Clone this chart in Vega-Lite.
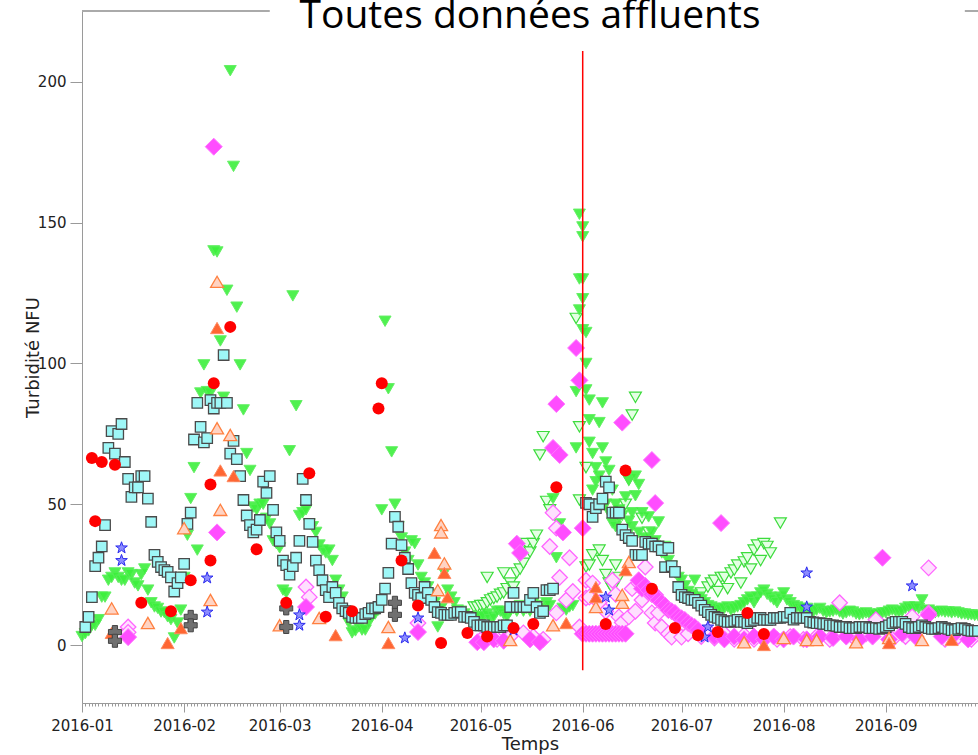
{
"width": 896, "height": 692,
"autosize": {"type": "none"},
"padding": {"left": 82, "top": 11, "right": 0, "bottom": 52},
"background": "white",
"view": {"stroke": null},
"title": {"text": "Toutes données affluents", "font": "Open Sans", "fontSize": 39, "fontWeight": "normal", "color": "#000000", "anchor": "middle", "offset": 0, "dy": 26},
"config": {
 "view": {"stroke": null},
 "axis": {"labelFont": "DejaVu Sans", "titleFont": "DejaVu Sans", "labelColor": "#222222", "titleColor": "#222222", "domainColor": "#9a9a9a", "tickColor": "#9a9a9a", "grid": false, "titleFontWeight": "normal"}
},
"datasets": {
"A": [
{"d":"2016-01-02","v":6.4},{"d":"2016-01-03","v":10},{"d":"2016-01-04","v":17},{"d":"2016-01-05","v":28},{"d":"2016-01-06","v":31},{"d":"2016-01-07","v":35},{"d":"2016-01-08","v":42.6},{"d":"2016-01-09","v":70},{"d":"2016-01-10","v":76},{"d":"2016-01-11","v":68},{"d":"2016-01-12","v":75},{"d":"2016-01-13","v":78.5},{"d":"2016-01-14","v":65},{"d":"2016-01-15","v":59},{"d":"2016-01-16","v":52.6},{"d":"2016-01-17","v":56},{"d":"2016-01-18","v":56},{"d":"2016-01-19","v":60},{"d":"2016-01-20","v":60},{"d":"2016-01-21","v":52},{"d":"2016-01-22","v":43.7},{"d":"2016-01-23","v":32},{"d":"2016-01-24","v":29.5},{"d":"2016-01-25","v":27.7},{"d":"2016-01-26","v":26.6},{"d":"2016-01-27","v":26},{"d":"2016-01-28","v":24},{"d":"2016-01-29","v":19},{"d":"2016-01-30","v":22},{"d":"2016-01-31","v":24},
{"d":"2016-02-01","v":28.8},{"d":"2016-02-02","v":43},{"d":"2016-02-03","v":47},{"d":"2016-02-04","v":73},{"d":"2016-02-05","v":86},{"d":"2016-02-06","v":77.5},{"d":"2016-02-07","v":72},{"d":"2016-02-08","v":73.5},{"d":"2016-02-09","v":87},{"d":"2016-02-10","v":84},{"d":"2016-02-11","v":86},{"d":"2016-02-12","v":86},{"d":"2016-02-13","v":103},{"d":"2016-02-14","v":86},{"d":"2016-02-15","v":68},{"d":"2016-02-16","v":72.5},{"d":"2016-02-17","v":66},{"d":"2016-02-18","v":60},{"d":"2016-02-19","v":51.5},{"d":"2016-02-20","v":46},{"d":"2016-02-21","v":42.6},{"d":"2016-02-22","v":40},{"d":"2016-02-23","v":41},{"d":"2016-02-24","v":44.4},{"d":"2016-02-25","v":58},{"d":"2016-02-26","v":54},{"d":"2016-02-27","v":60},{"d":"2016-02-28","v":48},{"d":"2016-02-29","v":40},
{"d":"2016-03-01","v":37},{"d":"2016-03-02","v":30},{"d":"2016-03-03","v":28.4},{"d":"2016-03-04","v":25},{"d":"2016-03-05","v":28},{"d":"2016-03-06","v":31},{"d":"2016-03-07","v":37},{"d":"2016-03-08","v":59},{"d":"2016-03-09","v":51.5},{"d":"2016-03-10","v":43},{"d":"2016-03-11","v":36.6},{"d":"2016-03-12","v":30},{"d":"2016-03-13","v":26.6},{"d":"2016-03-14","v":23},{"d":"2016-03-15","v":19.5},{"d":"2016-03-16","v":17},{"d":"2016-03-17","v":20.6},{"d":"2016-03-18","v":18.5},{"d":"2016-03-19","v":15},{"d":"2016-03-20","v":13},{"d":"2016-03-21","v":12},{"d":"2016-03-22","v":11.4},{"d":"2016-03-23","v":10},{"d":"2016-03-24","v":9.6},{"d":"2016-03-25","v":9.6},{"d":"2016-03-26","v":9.6},{"d":"2016-03-27","v":11},{"d":"2016-03-28","v":11.4},{"d":"2016-03-29","v":13},{"d":"2016-03-30","v":13},{"d":"2016-03-31","v":13.5},
{"d":"2016-04-01","v":16},{"d":"2016-04-02","v":20},{"d":"2016-04-03","v":25.6},{"d":"2016-04-04","v":36},{"d":"2016-04-05","v":45.5},{"d":"2016-04-06","v":42},{"d":"2016-04-07","v":35.5},{"d":"2016-04-08","v":31},{"d":"2016-04-09","v":27},{"d":"2016-04-10","v":22},{"d":"2016-04-11","v":18.5},{"d":"2016-04-12","v":17.8},{"d":"2016-04-13","v":16.7},{"d":"2016-04-14","v":20.6},{"d":"2016-04-15","v":18.5},{"d":"2016-04-16","v":16},{"d":"2016-04-17","v":13.5},{"d":"2016-04-18","v":11.7},{"d":"2016-04-19","v":11.4},{"d":"2016-04-20","v":10.7},{"d":"2016-04-21","v":10.7},{"d":"2016-04-22","v":10.7},{"d":"2016-04-23","v":11.4},{"d":"2016-04-24","v":11.7},{"d":"2016-04-25","v":11.7},{"d":"2016-04-26","v":10},{"d":"2016-04-27","v":10},{"d":"2016-04-28","v":9.6},{"d":"2016-04-29","v":8.2},{"d":"2016-04-30","v":7},
{"d":"2016-05-01","v":7},{"d":"2016-05-02","v":7},{"d":"2016-05-03","v":6.4},{"d":"2016-05-04","v":6.4},{"d":"2016-05-05","v":6.4},{"d":"2016-05-06","v":6.4},{"d":"2016-05-07","v":6.4},{"d":"2016-05-08","v":7},{"d":"2016-05-09","v":7},{"d":"2016-05-10","v":13.5},{"d":"2016-05-11","v":18.5},{"d":"2016-05-12","v":13.5},{"d":"2016-05-13","v":13.5},{"d":"2016-05-14","v":13.5},{"d":"2016-05-15","v":13.5},{"d":"2016-05-16","v":16},{"d":"2016-05-17","v":18.5},{"d":"2016-05-18","v":13.5},{"d":"2016-05-19","v":11.4},{"d":"2016-05-20","v":12},{"d":"2016-05-21","v":19.5},{"d":"2016-05-22","v":19.5},{"d":"2016-05-23","v":20},
{"d":"2016-06-02","v":50.5},{"d":"2016-06-03","v":50},{"d":"2016-06-04","v":45.5},{"d":"2016-06-05","v":48.6},{"d":"2016-06-06","v":50},{"d":"2016-06-07","v":52},{"d":"2016-06-08","v":58},{"d":"2016-06-09","v":56},{"d":"2016-06-10","v":47},{"d":"2016-06-11","v":47},{"d":"2016-06-12","v":47},{"d":"2016-06-13","v":41},{"d":"2016-06-14","v":39},{"d":"2016-06-15","v":38},{"d":"2016-06-16","v":37},{"d":"2016-06-17","v":32},{"d":"2016-06-18","v":32},{"d":"2016-06-19","v":32},{"d":"2016-06-20","v":36.6},{"d":"2016-06-21","v":36},{"d":"2016-06-22","v":36},{"d":"2016-06-23","v":35},{"d":"2016-06-24","v":35},{"d":"2016-06-25","v":33.7},{"d":"2016-06-26","v":27.7},{"d":"2016-06-27","v":34.5},{"d":"2016-06-28","v":28},{"d":"2016-06-29","v":26},{"d":"2016-06-30","v":20.6},
{"d":"2016-07-01","v":17.8},{"d":"2016-07-02","v":17},{"d":"2016-07-03","v":16.7},{"d":"2016-07-04","v":16},{"d":"2016-07-05","v":16},{"d":"2016-07-06","v":15},{"d":"2016-07-07","v":14},{"d":"2016-07-08","v":12.5},{"d":"2016-07-09","v":11.7},{"d":"2016-07-10","v":10.7},{"d":"2016-07-11","v":10},{"d":"2016-07-12","v":9.6},{"d":"2016-07-13","v":8.9},{"d":"2016-07-14","v":8.5},{"d":"2016-07-15","v":8.2},{"d":"2016-07-16","v":8.2},{"d":"2016-07-17","v":8.5},{"d":"2016-07-18","v":8.9},{"d":"2016-07-19","v":8.2},{"d":"2016-07-20","v":8.2},{"d":"2016-07-21","v":7.8},{"d":"2016-07-22","v":8.5},{"d":"2016-07-23","v":8.9},{"d":"2016-07-24","v":9.6},{"d":"2016-07-25","v":9.6},{"d":"2016-07-26","v":8.9},{"d":"2016-07-27","v":8.9},{"d":"2016-07-28","v":8.9},{"d":"2016-07-29","v":9.6},{"d":"2016-07-30","v":9.6},{"d":"2016-07-31","v":9.6},
{"d":"2016-08-01","v":10},{"d":"2016-08-02","v":10},{"d":"2016-08-03","v":11.4},{"d":"2016-08-04","v":9},{"d":"2016-08-05","v":9.6},{"d":"2016-08-06","v":9.6},{"d":"2016-08-07","v":9.6},{"d":"2016-08-08","v":9.6},{"d":"2016-08-09","v":8.2},{"d":"2016-08-10","v":8},{"d":"2016-08-11","v":7.8},{"d":"2016-08-12","v":7.8},{"d":"2016-08-13","v":7.5},{"d":"2016-08-14","v":7.5},{"d":"2016-08-15","v":7},{"d":"2016-08-16","v":7},{"d":"2016-08-17","v":6.8},{"d":"2016-08-18","v":6.4},{"d":"2016-08-19","v":6.4},{"d":"2016-08-20","v":6.4},{"d":"2016-08-21","v":6},{"d":"2016-08-22","v":6},{"d":"2016-08-23","v":6},{"d":"2016-08-24","v":6.4},{"d":"2016-08-25","v":6.4},{"d":"2016-08-26","v":6.4},{"d":"2016-08-27","v":6},{"d":"2016-08-28","v":6},{"d":"2016-08-29","v":6},{"d":"2016-08-30","v":5.7},{"d":"2016-08-31","v":6},
{"d":"2016-09-01","v":6.4},{"d":"2016-09-02","v":7},{"d":"2016-09-03","v":7.8},{"d":"2016-09-04","v":8.2},{"d":"2016-09-05","v":8.2},{"d":"2016-09-06","v":8.2},{"d":"2016-09-07","v":7.5},{"d":"2016-09-08","v":6.4},{"d":"2016-09-09","v":6},{"d":"2016-09-10","v":6},{"d":"2016-09-11","v":6.4},{"d":"2016-09-12","v":7},{"d":"2016-09-13","v":6.4},{"d":"2016-09-14","v":6},{"d":"2016-09-15","v":5.7},{"d":"2016-09-16","v":5.7},{"d":"2016-09-17","v":6},{"d":"2016-09-18","v":6.4},{"d":"2016-09-19","v":6},{"d":"2016-09-20","v":5.7},{"d":"2016-09-21","v":5.3},{"d":"2016-09-22","v":5.3},{"d":"2016-09-23","v":5.7},{"d":"2016-09-24","v":6},{"d":"2016-09-25","v":5.7},{"d":"2016-09-26","v":5.3},{"d":"2016-09-27","v":5},{"d":"2016-09-28","v":5},{"d":"2016-09-29","v":5}
],
"B": [
{"d":"2016-01-01","v":3},{"d":"2016-01-02","v":4},{"d":"2016-01-03","v":5},{"d":"2016-01-04","v":7},{"d":"2016-01-05","v":7},{"d":"2016-01-06","v":9},{"d":"2016-01-07","v":17},{"d":"2016-01-08","v":17},{"d":"2016-01-09","v":23},{"d":"2016-01-10","v":24},{"d":"2016-01-11","v":25.6},{"d":"2016-01-12","v":24},{"d":"2016-01-13","v":23},{"d":"2016-01-14","v":23},{"d":"2016-01-15","v":25.6},{"d":"2016-01-16","v":25},{"d":"2016-01-17","v":22},{"d":"2016-01-18","v":21},{"d":"2016-01-19","v":25},{"d":"2016-01-20","v":27},{"d":"2016-01-21","v":19.5},{"d":"2016-01-22","v":15},{"d":"2016-01-23","v":13.5},{"d":"2016-01-24","v":13},{"d":"2016-01-25","v":11.7},{"d":"2016-01-26","v":11.5},{"d":"2016-01-27","v":10},{"d":"2016-01-28","v":9},{"d":"2016-01-29","v":2.5},{"d":"2016-01-30","v":7.8},{"d":"2016-01-31","v":12.4},
{"d":"2016-02-01","v":24},{"d":"2016-02-02","v":39},{"d":"2016-02-03","v":52},{"d":"2016-02-04","v":63},{"d":"2016-02-05","v":33.7},{"d":"2016-02-06","v":89.5},{"d":"2016-02-07","v":99.5},{"d":"2016-02-08","v":90},{"d":"2016-02-09","v":89.5},{"d":"2016-02-10","v":140},{"d":"2016-02-11","v":139.6},{"d":"2016-02-12","v":108},{"d":"2016-02-13","v":88},{"d":"2016-02-14","v":126},{"d":"2016-02-15","v":204},{"d":"2016-02-16","v":170},{"d":"2016-02-17","v":120},{"d":"2016-02-18","v":99.5},{"d":"2016-02-19","v":83.5},{"d":"2016-02-20","v":68},{"d":"2016-02-21","v":62},{"d":"2016-02-22","v":49},{"d":"2016-02-23","v":48},{"d":"2016-02-24","v":50},{"d":"2016-02-25","v":50},{"d":"2016-02-26","v":45},{"d":"2016-02-27","v":43},{"d":"2016-02-28","v":37},{"d":"2016-02-29","v":36},
{"d":"2016-03-01","v":34.5},{"d":"2016-03-02","v":19.5},{"d":"2016-03-03","v":18.5},{"d":"2016-03-04","v":69},{"d":"2016-03-05","v":124},{"d":"2016-03-06","v":85},{"d":"2016-03-07","v":46},{"d":"2016-03-08","v":47},{"d":"2016-03-09","v":48},{"d":"2016-03-10","v":43},{"d":"2016-03-11","v":42},{"d":"2016-03-12","v":40},{"d":"2016-03-13","v":35.5},{"d":"2016-03-14","v":33.7},{"d":"2016-03-15","v":32.7},{"d":"2016-03-16","v":33.7},{"d":"2016-03-17","v":30},{"d":"2016-03-18","v":23},{"d":"2016-03-19","v":19.5},{"d":"2016-03-20","v":17},{"d":"2016-03-21","v":12},{"d":"2016-03-22","v":7.8},{"d":"2016-03-23","v":4.3},{"d":"2016-03-24","v":5},{"d":"2016-03-25","v":6.4},{"d":"2016-03-26","v":5.3},{"d":"2016-03-27","v":5.3},{"d":"2016-03-28","v":7.8},{"d":"2016-03-29","v":10},{"d":"2016-03-30","v":11},{"d":"2016-03-31","v":12.4},
{"d":"2016-04-01","v":48},{"d":"2016-04-02","v":115},{"d":"2016-04-03","v":91},{"d":"2016-04-04","v":68.6},{"d":"2016-04-05","v":50},{"d":"2016-04-06","v":42},{"d":"2016-04-07","v":38},{"d":"2016-04-08","v":33},{"d":"2016-04-09","v":30},{"d":"2016-04-10","v":37},{"d":"2016-04-11","v":36},{"d":"2016-04-12","v":28.4},{"d":"2016-04-13","v":24},{"d":"2016-04-14","v":22},{"d":"2016-04-15","v":20.6},{"d":"2016-04-16","v":18},{"d":"2016-04-17","v":15},{"d":"2016-04-18","v":6.4},{"d":"2016-04-19","v":13},{"d":"2016-04-20","v":25.6},{"d":"2016-04-21","v":19.5},{"d":"2016-04-22","v":17},{"d":"2016-04-23","v":15},{"d":"2016-04-24","v":12.4},{"d":"2016-04-25","v":12},{"d":"2016-04-26","v":11},{"d":"2016-04-27","v":10},{"d":"2016-04-28","v":9},{"d":"2016-04-29","v":8},{"d":"2016-04-30","v":10},
{"d":"2016-05-01","v":10},{"d":"2016-05-02","v":10},{"d":"2016-05-03","v":11},{"d":"2016-05-04","v":9},{"d":"2016-05-05","v":10},{"d":"2016-05-06","v":12},{"d":"2016-05-07","v":12},{"d":"2016-05-08","v":11},{"d":"2016-05-09","v":10},{"d":"2016-05-10","v":12},{"d":"2016-05-11","v":13},{"d":"2016-05-12","v":12},{"d":"2016-05-13","v":14},{"d":"2016-05-14","v":12},{"d":"2016-05-15","v":13},{"d":"2016-05-16","v":12},{"d":"2016-05-17","v":15},{"d":"2016-05-18","v":14},{"d":"2016-05-19","v":13},{"d":"2016-05-20","v":12},{"d":"2016-05-21","v":15},{"d":"2016-05-22","v":14},{"d":"2016-05-23","v":52},{"d":"2016-05-24","v":31},{"d":"2016-05-25","v":43},{"d":"2016-05-26","v":13},{"d":"2016-05-27","v":12.4},{"d":"2016-05-28","v":13.5},{"d":"2016-05-29","v":14},{"d":"2016-05-30","v":70},{"d":"2016-05-30","v":90},{"d":"2016-05-31","v":153},{"d":"2016-05-31","v":130},{"d":"2016-05-31","v":119},
{"d":"2016-06-01","v":148.5},{"d":"2016-06-01","v":145},{"d":"2016-06-01","v":130},{"d":"2016-06-01","v":123},{"d":"2016-06-01","v":112},{"d":"2016-06-02","v":111},{"d":"2016-06-02","v":100},{"d":"2016-06-02","v":90.6},{"d":"2016-06-03","v":87},{"d":"2016-06-03","v":80},{"d":"2016-06-03","v":72},{"d":"2016-06-04","v":68},{"d":"2016-06-04","v":55},{"d":"2016-06-05","v":63},{"d":"2016-06-05","v":58},{"d":"2016-06-06","v":79},{"d":"2016-06-06","v":60},{"d":"2016-06-07","v":86},{"d":"2016-06-07","v":70},{"d":"2016-06-08","v":65},{"d":"2016-06-08","v":50},{"d":"2016-06-09","v":47},{"d":"2016-06-09","v":62},{"d":"2016-06-10","v":43.3},{"d":"2016-06-10","v":55},{"d":"2016-06-11","v":42},{"d":"2016-06-11","v":50},{"d":"2016-06-12","v":45},{"d":"2016-06-12","v":48},{"d":"2016-06-13","v":40},{"d":"2016-06-13","v":46},{"d":"2016-06-14","v":52.6},{"d":"2016-06-15","v":58.6},{"d":"2016-06-15","v":44},{"d":"2016-06-16","v":47},{"d":"2016-06-16","v":42},{"d":"2016-06-17","v":60},{"d":"2016-06-17","v":53},{"d":"2016-06-18","v":57},{"d":"2016-06-18","v":40},{"d":"2016-06-19","v":47},{"d":"2016-06-20","v":38},{"d":"2016-06-21","v":45.5},{"d":"2016-06-22","v":40},{"d":"2016-06-23","v":37},{"d":"2016-06-24","v":43.7},{"d":"2016-06-25","v":32.7},{"d":"2016-06-26","v":35},{"d":"2016-06-27","v":30},{"d":"2016-06-28","v":28},{"d":"2016-06-29","v":25.6},{"d":"2016-06-30","v":24},
{"d":"2016-07-01","v":23},{"d":"2016-07-02","v":21},{"d":"2016-07-03","v":19},{"d":"2016-07-04","v":18},{"d":"2016-07-05","v":23},{"d":"2016-07-06","v":17},{"d":"2016-07-07","v":16},{"d":"2016-07-08","v":15},{"d":"2016-07-09","v":14},{"d":"2016-07-10","v":13.5},{"d":"2016-07-11","v":13},{"d":"2016-07-12","v":13},{"d":"2016-07-13","v":12.5},{"d":"2016-07-14","v":13},{"d":"2016-07-15","v":13.5},{"d":"2016-07-16","v":12.4},{"d":"2016-07-17","v":13},{"d":"2016-07-18","v":13.5},{"d":"2016-07-19","v":14},{"d":"2016-07-20","v":15},{"d":"2016-07-21","v":16},{"d":"2016-07-22","v":17},{"d":"2016-07-23","v":15},{"d":"2016-07-24","v":17},{"d":"2016-07-25","v":18.5},{"d":"2016-07-26","v":19.5},{"d":"2016-07-27","v":18},{"d":"2016-07-28","v":17},{"d":"2016-07-29","v":16},{"d":"2016-07-30","v":15},{"d":"2016-07-31","v":17},
{"d":"2016-08-01","v":18.5},{"d":"2016-08-02","v":16},{"d":"2016-08-03","v":15},{"d":"2016-08-04","v":14},{"d":"2016-08-05","v":13.5},{"d":"2016-08-06","v":13},{"d":"2016-08-07","v":12.4},{"d":"2016-08-08","v":13},{"d":"2016-08-09","v":12},{"d":"2016-08-10","v":11.7},{"d":"2016-08-11","v":12.4},{"d":"2016-08-12","v":13},{"d":"2016-08-13","v":12},{"d":"2016-08-14","v":11.4},{"d":"2016-08-15","v":11.7},{"d":"2016-08-16","v":12},{"d":"2016-08-17","v":12.4},{"d":"2016-08-18","v":11.7},{"d":"2016-08-19","v":11},{"d":"2016-08-20","v":11.4},{"d":"2016-08-21","v":12},{"d":"2016-08-22","v":11.7},{"d":"2016-08-23","v":11},{"d":"2016-08-24","v":10.7},{"d":"2016-08-25","v":11},{"d":"2016-08-26","v":11.4},{"d":"2016-08-27","v":11},{"d":"2016-08-28","v":10.7},{"d":"2016-08-29","v":10.7},{"d":"2016-08-30","v":11},{"d":"2016-08-31","v":11.4},
{"d":"2016-09-01","v":11.4},{"d":"2016-09-02","v":12},{"d":"2016-09-03","v":12.4},{"d":"2016-09-04","v":12},{"d":"2016-09-05","v":11.7},{"d":"2016-09-06","v":12},{"d":"2016-09-07","v":13},{"d":"2016-09-08","v":13.5},{"d":"2016-09-09","v":13},{"d":"2016-09-10","v":13.5},{"d":"2016-09-11","v":13},{"d":"2016-09-12","v":16},{"d":"2016-09-13","v":12},{"d":"2016-09-14","v":12.4},{"d":"2016-09-15","v":11.7},{"d":"2016-09-16","v":11.4},{"d":"2016-09-17","v":11.7},{"d":"2016-09-18","v":12},{"d":"2016-09-19","v":11.7},{"d":"2016-09-20","v":11.7},{"d":"2016-09-21","v":11.4},{"d":"2016-09-22","v":11.7},{"d":"2016-09-23","v":11.4},{"d":"2016-09-24","v":11},{"d":"2016-09-25","v":11},{"d":"2016-09-26","v":10.7},{"d":"2016-09-27","v":10.7},{"d":"2016-09-28","v":10.5},{"d":"2016-09-29","v":10.5}
],
"C": [
{"d":"2016-04-29","v":13.5},{"d":"2016-04-30","v":13.5},{"d":"2016-05-01","v":14},{"d":"2016-05-02","v":14},{"d":"2016-05-03","v":15},{"d":"2016-05-03","v":24},{"d":"2016-05-04","v":16},{"d":"2016-05-05","v":16.5},{"d":"2016-05-06","v":17},{"d":"2016-05-07","v":18},{"d":"2016-05-08","v":18.5},{"d":"2016-05-08","v":25.6},{"d":"2016-05-09","v":20},{"d":"2016-05-10","v":22},{"d":"2016-05-11","v":20.6},{"d":"2016-05-12","v":25.6},{"d":"2016-05-13","v":27},{"d":"2016-05-14","v":29},{"d":"2016-05-15","v":36},{"d":"2016-05-16","v":33},{"d":"2016-05-17","v":36},{"d":"2016-05-18","v":39},{"d":"2016-05-19","v":67.5},{"d":"2016-05-20","v":74},{"d":"2016-05-21","v":51},{"d":"2016-05-22","v":48},{"d":"2016-05-30","v":116},{"d":"2016-05-31","v":77.5},{"d":"2016-05-31","v":51.5},
{"d":"2016-06-02","v":63},{"d":"2016-06-02","v":27.7},{"d":"2016-06-03","v":28.4},{"d":"2016-06-04","v":32},{"d":"2016-06-06","v":33.7},{"d":"2016-06-07","v":30},{"d":"2016-06-08","v":25},{"d":"2016-06-09","v":22},{"d":"2016-06-10","v":20},{"d":"2016-06-11","v":28.4},{"d":"2016-06-12","v":24},{"d":"2016-06-14","v":50},{"d":"2016-06-15","v":58.6},{"d":"2016-06-16","v":81.7},{"d":"2016-06-17","v":88},{"d":"2016-06-19","v":45},{"d":"2016-06-21","v":40},
{"d":"2016-07-05","v":17},{"d":"2016-07-07","v":18.5},{"d":"2016-07-09","v":20.6},{"d":"2016-07-10","v":22},{"d":"2016-07-11","v":23},{"d":"2016-07-12","v":19},{"d":"2016-07-13","v":24},{"d":"2016-07-14","v":24},{"d":"2016-07-15","v":20},{"d":"2016-07-16","v":25.6},{"d":"2016-07-17","v":26.6},{"d":"2016-07-18","v":28.4},{"d":"2016-07-19","v":22},{"d":"2016-07-20","v":29.5},{"d":"2016-07-21","v":31},{"d":"2016-07-22","v":27},{"d":"2016-07-23","v":33.7},{"d":"2016-07-24","v":35.5},{"d":"2016-07-25","v":30},{"d":"2016-07-26","v":36},{"d":"2016-07-27","v":35},{"d":"2016-07-28","v":32.7},{"d":"2016-07-31","v":43.3}
],
"D": [
{"d":"2016-01-15","v":2.8},{"d":"2016-02-10","v":177},{"d":"2016-02-11","v":40},{"d":"2016-03-09","v":13.5},{"d":"2016-04-12","v":4.6},{"d":"2016-04-30","v":1},{"d":"2016-05-02","v":1},{"d":"2016-05-05","v":2},{"d":"2016-05-08","v":1.5},{"d":"2016-05-12","v":36},{"d":"2016-05-13","v":32.7},{"d":"2016-05-16","v":2},{"d":"2016-05-19","v":1},{"d":"2016-05-23","v":70},{"d":"2016-05-24","v":85.6},{"d":"2016-05-25","v":67.5},{"d":"2016-05-26","v":40},{"d":"2016-05-30","v":105.5},{"d":"2016-05-31","v":94},{"d":"2016-06-01","v":41.5},
{"d":"2016-06-01","v":4},{"d":"2016-06-02","v":4},{"d":"2016-06-03","v":4},{"d":"2016-06-04","v":4},{"d":"2016-06-05","v":4},{"d":"2016-06-06","v":4},{"d":"2016-06-07","v":4},{"d":"2016-06-08","v":4},{"d":"2016-06-09","v":4},{"d":"2016-06-10","v":4},{"d":"2016-06-11","v":4},{"d":"2016-06-12","v":4},{"d":"2016-06-13","v":4},{"d":"2016-06-14","v":4},
{"d":"2016-06-13","v":79},{"d":"2016-06-22","v":65.7},{"d":"2016-06-23","v":50.4},{"d":"2016-06-18","v":23},{"d":"2016-06-19","v":20},{"d":"2016-06-20","v":21},{"d":"2016-06-21","v":19.5},{"d":"2016-06-22","v":18},{"d":"2016-06-23","v":17.8},{"d":"2016-06-24","v":16},{"d":"2016-06-25","v":15},{"d":"2016-06-26","v":14},{"d":"2016-06-27","v":12.4},{"d":"2016-06-28","v":12},{"d":"2016-06-29","v":11.4},{"d":"2016-06-30","v":10},{"d":"2016-07-01","v":9.5},{"d":"2016-07-02","v":8.9},{"d":"2016-07-03","v":7.8},{"d":"2016-07-04","v":7},{"d":"2016-07-05","v":6.4},{"d":"2016-07-06","v":5.3},{"d":"2016-07-13","v":43.3},
{"d":"2016-07-11","v":3},{"d":"2016-07-14","v":2},{"d":"2016-07-17","v":3},{"d":"2016-07-20","v":2},{"d":"2016-07-23","v":3},{"d":"2016-07-26","v":2},{"d":"2016-07-29","v":3},{"d":"2016-08-01","v":2},{"d":"2016-08-04","v":3},{"d":"2016-08-08","v":2},{"d":"2016-08-12","v":3},{"d":"2016-08-16","v":2.5},{"d":"2016-08-20","v":3},{"d":"2016-08-24","v":2},{"d":"2016-08-28","v":3},{"d":"2016-08-31","v":31},{"d":"2016-09-02","v":2},{"d":"2016-09-06","v":4},{"d":"2016-09-10","v":3},{"d":"2016-09-14","v":10.7},{"d":"2016-09-18","v":3},{"d":"2016-09-22","v":4},{"d":"2016-09-26","v":2}
],
"E": [
{"d":"2016-01-15","v":6.4},{"d":"2016-01-15","v":4.5},{"d":"2016-03-09","v":20.6},{"d":"2016-03-10","v":17},{"d":"2016-04-12","v":7.8},{"d":"2016-05-01","v":1.8},{"d":"2016-05-06","v":2},{"d":"2016-05-10","v":3},{"d":"2016-05-14","v":4.3},{"d":"2016-05-17","v":3},{"d":"2016-05-20","v":2},{"d":"2016-05-22","v":35},{"d":"2016-05-23","v":47},{"d":"2016-05-24","v":41.5},{"d":"2016-05-24","v":11.4},{"d":"2016-05-25","v":24},{"d":"2016-05-27","v":16},{"d":"2016-05-28","v":31},{"d":"2016-05-29","v":19},{"d":"2016-05-31","v":6.4},
{"d":"2016-06-02","v":23},{"d":"2016-06-02","v":16.7},{"d":"2016-06-03","v":17},{"d":"2016-06-04","v":22},{"d":"2016-06-06","v":15},{"d":"2016-06-08","v":12},{"d":"2016-06-10","v":23},{"d":"2016-06-11","v":18},{"d":"2016-06-12","v":10},{"d":"2016-06-13","v":8},{"d":"2016-06-15","v":10},{"d":"2016-06-16","v":20},{"d":"2016-06-17","v":12},{"d":"2016-06-18","v":22},{"d":"2016-06-19","v":16},{"d":"2016-06-20","v":27.7},{"d":"2016-06-21","v":18.5},{"d":"2016-06-22","v":11.4},{"d":"2016-06-23","v":7.8},{"d":"2016-06-24","v":11.4},{"d":"2016-06-25","v":6.4},{"d":"2016-06-27","v":4},{"d":"2016-06-28","v":2.8},{"d":"2016-06-30","v":6},
{"d":"2016-07-01","v":2.8},{"d":"2016-07-03","v":4},{"d":"2016-07-05","v":6},{"d":"2016-07-07","v":3},{"d":"2016-07-09","v":5},{"d":"2016-07-11","v":2.5},{"d":"2016-07-14","v":4},{"d":"2016-07-17","v":2},{"d":"2016-07-20","v":3.5},{"d":"2016-07-23","v":2},{"d":"2016-07-26","v":3},{"d":"2016-07-30","v":2},{"d":"2016-08-03","v":3},{"d":"2016-08-07","v":2},{"d":"2016-08-11","v":3},{"d":"2016-08-15","v":2},{"d":"2016-08-18","v":15},{"d":"2016-08-22","v":3},{"d":"2016-08-26","v":4},{"d":"2016-08-29","v":9},{"d":"2016-09-03","v":2},{"d":"2016-09-07","v":3},{"d":"2016-09-09","v":10},{"d":"2016-09-14","v":27.4},{"d":"2016-09-14","v":11.4},{"d":"2016-09-19","v":2},{"d":"2016-09-23","v":3},{"d":"2016-09-27","v":2}
],
"F": [
{"d":"2016-01-10","v":4.3},{"d":"2016-01-27","v":0.7},{"d":"2016-01-31","v":6},{"d":"2016-02-11","v":112.6},{"d":"2016-02-12","v":62},{"d":"2016-02-16","v":60},{"d":"2016-03-18","v":3.5},{"d":"2016-04-03","v":0.7},{"d":"2016-04-17","v":32.7},{"d":"2016-04-20","v":25.6},{"d":"2016-04-21","v":17},{"d":"2016-05-27","v":7.8},{"d":"2016-06-05","v":17},{"d":"2016-06-05","v":20.6},{"d":"2016-06-14","v":26.6},{"d":"2016-07-26","v":0},{"d":"2016-09-02","v":0.7},{"d":"2016-09-21","v":1.8}
],
"G": [
{"d":"2016-01-10","v":13},{"d":"2016-01-21","v":7.8},{"d":"2016-02-01","v":41.5},{"d":"2016-02-09","v":16},{"d":"2016-02-11","v":129},{"d":"2016-02-11","v":77},{"d":"2016-02-12","v":48},{"d":"2016-02-15","v":74.6},{"d":"2016-03-01","v":7},{"d":"2016-03-13","v":9.6},{"d":"2016-04-03","v":6.4},{"d":"2016-04-18","v":19.5},{"d":"2016-04-19","v":42.6},{"d":"2016-04-19","v":40},{"d":"2016-04-20","v":29},{"d":"2016-05-10","v":1.8},{"d":"2016-05-23","v":7},{"d":"2016-06-05","v":13.5},{"d":"2016-06-13","v":15},{"d":"2016-06-13","v":17.8},{"d":"2016-06-15","v":29.5},{"d":"2016-07-20","v":1},{"d":"2016-08-01","v":2.5},{"d":"2016-08-08","v":1.8},{"d":"2016-08-11","v":1.8},{"d":"2016-08-23","v":1},{"d":"2016-09-02","v":2.5},{"d":"2016-09-12","v":1.8}
],
"H": [
{"d":"2016-01-13","v":34.5},{"d":"2016-01-13","v":30},{"d":"2016-02-08","v":23.8},{"d":"2016-02-08","v":11.7},{"d":"2016-03-07","v":10.7},{"d":"2016-03-07","v":7},{"d":"2016-04-08","v":2.5},{"d":"2016-04-12","v":9.6},{"d":"2016-05-11","v":5.3},{"d":"2016-06-08","v":17},{"d":"2016-06-09","v":12.4},{"d":"2016-07-09","v":6.4},{"d":"2016-07-08","v":2.8},{"d":"2016-08-08","v":25.6},{"d":"2016-08-08","v":13.5},{"d":"2016-09-09","v":21}
],
"I": [
{"d":"2016-01-11","v":4.6},{"d":"2016-01-11","v":1.5},{"d":"2016-02-03","v":10},{"d":"2016-02-03","v":7},{"d":"2016-03-03","v":13},{"d":"2016-03-03","v":6.4},{"d":"2016-04-05","v":15},{"d":"2016-04-05","v":10.7}
],
"J": [
{"d":"2016-01-04","v":66.4},{"d":"2016-01-05","v":44},{"d":"2016-01-07","v":65},{"d":"2016-01-11","v":64},{"d":"2016-01-19","v":15},{"d":"2016-01-28","v":12},{"d":"2016-02-03","v":23},{"d":"2016-02-09","v":30},{"d":"2016-02-09","v":57},{"d":"2016-02-10","v":93},{"d":"2016-02-15","v":113},{"d":"2016-02-23","v":34},{"d":"2016-03-03","v":15},{"d":"2016-03-10","v":61},{"d":"2016-03-15","v":10},{"d":"2016-03-23","v":12},{"d":"2016-03-31","v":84},{"d":"2016-04-01","v":93},{"d":"2016-04-07","v":30},{"d":"2016-04-12","v":14},{"d":"2016-04-19","v":0.7},{"d":"2016-04-27","v":4.3},{"d":"2016-05-03","v":3},{"d":"2016-05-11","v":6},{"d":"2016-05-17","v":7.5},{"d":"2016-05-24","v":56},{"d":"2016-06-08","v":7.5},{"d":"2016-06-14","v":62},{"d":"2016-06-22","v":20},{"d":"2016-06-29","v":6},{"d":"2016-07-06","v":3.5},{"d":"2016-07-12","v":4.6},{"d":"2016-07-21","v":11.4},{"d":"2016-07-26","v":3.9}
],
"R": [{"d":"2016-06-01","lo":-9,"hi":211}],
"T": [{"a":"2016-01-01","b":"2016-02-27","y":225.2},{"a":"2016-09-25","b":"2016-09-29","y":225.2}]
},
"resolve": {"axis": {"x": "independent"}},
"layer": [
 {
  "encoding": {
   "x": {"field": "d", "type": "temporal",
    "scale": {"type": "utc", "domain": ["2016-01-01", "2016-09-29"], "nice": false},
    "axis": {"orient": "bottom", "title": "Temps", "titleFontSize": 18, "titlePadding": 2, "labelFontSize": 15, "labelPadding": 6, "labelFlush": false, "labelAlign": "center", "tickCount": {"interval": "month", "step": 1}, "labelExpr": "utcFormat(datum.value, '%Y-%m')", "tickSize": 9}},
   "y": {"field": "v", "type": "quantitative",
    "scale": {"domain": [-20.6, 225.2], "nice": false, "zero": false},
    "axis": {"title": "Turbidité NFU", "titleFontSize": 18, "titlePadding": -5, "values": [0, 50, 100, 150, 200], "labelFontSize": 15, "tickSize": 12, "labelPadding": 4}}
  },
  "layer": [
   {"data": {"name": "C"}, "mark": {"type": "point", "shape": "triangle-down", "filled": true, "fill": "#e4ffe4", "stroke": "#3ddc3d", "strokeWidth": 1.2, "size": 144, "opacity": 1}},
   {"data": {"name": "B"}, "mark": {"type": "point", "shape": "triangle-down", "filled": true, "fill": "#3cf03c", "stroke": "#55ee55", "strokeWidth": 1, "size": 144, "opacity": 0.9}},
   {"data": {"name": "E"}, "mark": {"type": "point", "shape": "diamond", "filled": true, "fill": "#ffdfff", "stroke": "#ff66ff", "strokeWidth": 1.3, "size": 240, "opacity": 1}},
   {"data": {"name": "D"}, "mark": {"type": "point", "shape": "diamond", "filled": true, "fill": "#ff4dff", "stroke": "#ff77ff", "strokeWidth": 1, "size": 290, "opacity": 1}},
   {"data": {"name": "A"}, "mark": {"type": "point", "shape": "square", "filled": true, "fill": "#9ef7f7", "stroke": "#4a4a4a", "strokeWidth": 1.3, "size": 110, "opacity": 1}},
   {"data": {"name": "G"}, "mark": {"type": "point", "shape": "triangle-up", "filled": true, "fill": "#ffd3c3", "stroke": "#ff8040", "strokeWidth": 1.3, "size": 169, "opacity": 1}},
   {"data": {"name": "F"}, "mark": {"type": "point", "shape": "triangle-up", "filled": true, "fill": "#ff6633", "stroke": "#ff8a60", "strokeWidth": 1, "size": 169, "opacity": 1}},
   {"data": {"name": "H"}, "mark": {"type": "point", "shape": "M0,-1L0.235,-0.324L0.951,-0.309L0.38,0.124L0.588,0.809L0,0.4L-0.588,0.809L-0.38,0.124L-0.951,-0.309L-0.235,-0.324Z", "filled": true, "fill": "#8c8cff", "stroke": "#2a2aee", "strokeWidth": 1, "size": 150, "opacity": 1}},
   {"data": {"name": "I"}, "mark": {"type": "point", "shape": "cross", "filled": true, "fill": "#707070", "stroke": "#444444", "strokeWidth": 1, "size": 169, "opacity": 1}},
   {"data": {"name": "J"}, "mark": {"type": "point", "shape": "circle", "filled": true, "fill": "#ff0000", "size": 144, "opacity": 1}}
  ]
 },
 {"data": {"name": "R"}, "mark": {"type": "rule", "color": "#ff0000", "strokeWidth": 1.5},
  "encoding": {
   "x": {"field": "d", "type": "temporal", "axis": {"orient": "bottom", "tickCount": {"interval": "day", "step": 1}, "labels": false, "domain": false, "tickSize": 3, "title": null}},
   "y": {"field": "lo", "type": "quantitative"},
   "y2": {"field": "hi"}}},
 {"data": {"name": "T"}, "mark": {"type": "rule", "color": "#aaaaaa", "strokeWidth": 2},
  "encoding": {
   "x": {"field": "a", "type": "temporal", "axis": null},
   "x2": {"field": "b"},
   "y": {"field": "y", "type": "quantitative"}}}
]
}
